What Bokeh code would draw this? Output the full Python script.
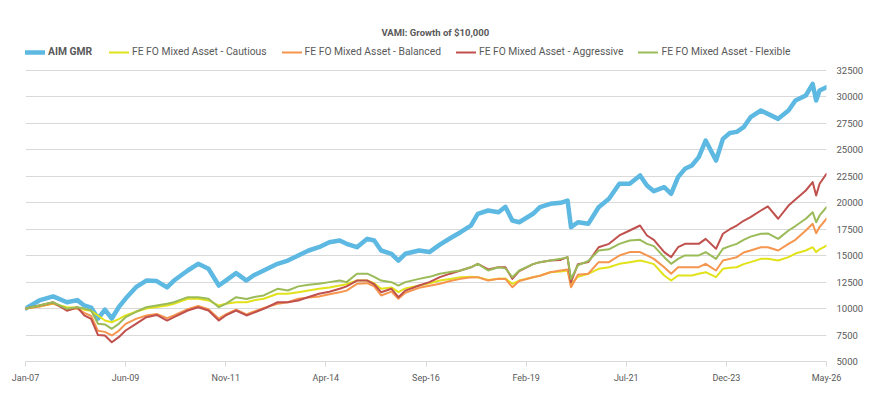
from datetime import datetime
from bokeh.plotting import figure
from bokeh.models import Range1d, FixedTicker, Legend, LegendItem, Title
from bokeh.embed import file_html
from bokeh.resources import INLINE

dates = ["Jan-07", "May-07", "Sep-07", "Jan-08", "Apr-08", "Jun-08", "Aug-08", "Oct-08", "Dec-08",
         "Feb-09", "Apr-09", "Jun-09", "Sep-09", "Dec-09", "Mar-10", "Jun-10", "Aug-10", "Dec-10",
         "Mar-11", "Jun-11", "Sep-11", "Nov-11", "Feb-12", "May-12", "Jul-12", "Oct-12", "Feb-13",
         "May-13", "Aug-13", "Nov-13", "Feb-14", "May-14", "Aug-14", "Oct-14", "Jan-15", "Apr-15",
         "Jun-15", "Aug-15", "Nov-15", "Jan-16", "Mar-16", "Jul-16", "Oct-16", "Jan-17", "Apr-17",
         "Jul-17", "Oct-17", "Dec-17", "Mar-18", "Jun-18", "Aug-18", "Oct-18", "Dec-18", "Apr-19",
         "Jun-19", "Sep-19", "Dec-19", "Feb-20", "Mar-20", "May-20", "Aug-20", "Nov-20", "Feb-21",
         "May-21", "Aug-21", "Nov-21", "Jan-22", "Mar-22", "Jun-22", "Aug-22", "Oct-22", "Dec-22",
         "Feb-23", "Apr-23", "Jun-23", "Sep-23", "Nov-23", "Jan-24", "Mar-24", "May-24", "Jul-24",
         "Oct-24", "Dec-24", "Mar-25", "Jun-25", "Aug-25", "Nov-25", "Jan-26", "Feb-26", "Mar-26",
         "May-26"]

aim_gmr = [10000, 10770, 11150, 10600, 10800, 10300, 10100, 9060, 9900,
           9060, 10130, 10950, 12020, 12650, 12600, 12000, 12650, 13600,
           14230, 13760, 12180, 12650, 13350, 12650, 13130, 13600, 14230,
           14540, 15020, 15490, 15800, 16270, 16430, 16120, 15800, 16590,
           16430, 15490, 15180, 14540, 15180, 15490, 15340, 16050, 16650,
           17220, 17850, 18950, 19270, 19110, 19620, 18320, 18160, 18960,
           19580, 19900, 20000, 20210, 17690, 18160, 18010, 19580, 20380,
           21790, 21800, 22580, 21630, 21100, 21470, 20850, 22420, 23210,
           23520, 24310, 25880, 23990, 26040, 26600, 26700, 27140, 28090,
           28720, 28400, 27930, 28720, 29660, 30140, 31240, 29660, 30610,
           30920]

cautious = [10000, 10200, 10450, 10130, 10100, 9900, 9800, 9350, 8870,
            8710, 9000, 9350, 9700, 10000, 10150, 10290, 10450, 10930,
            10930, 10770, 10290, 10450, 10600, 10600, 10770, 10930, 11400,
            11400, 11550, 11700, 11870, 12000, 12180, 12300, 12650, 12650,
            12400, 11870, 12000, 11550, 11900, 12180, 12400, 12650, 12800,
            12970, 13000, 12970, 12700, 12810, 12850, 12340, 12650, 12970,
            13100, 13440, 13500, 13600, 12340, 13000, 13290, 13760, 13910,
            14230, 14390, 14540, 14390, 14200, 13130, 12650, 13130, 13130,
            13130, 13290, 13440, 12970, 13760, 13850, 13910, 14200, 14390,
            14700, 14700, 14540, 14860, 15200, 15490, 15800, 15340, 15600,
            15960]

balanced = [10000, 10200, 10500, 9900, 10000, 9600, 9300, 7900, 7800,
            7460, 7900, 8560, 9030, 9350, 9500, 9100, 9350, 9950,
            10250, 9950, 9050, 9450, 9900, 9450, 9700, 10050, 10450,
            10600, 10930, 11050, 11140, 11350, 11550, 11700, 12340, 12400,
            12100, 11240, 11600, 10930, 11500, 11960, 12150, 12340, 12600,
            12810, 12950, 12970, 12650, 12810, 12800, 12020, 12600, 12970,
            13100, 13440, 13600, 13700, 12020, 13200, 13290, 14390, 14390,
            15020, 15340, 15340, 15020, 14700, 13910, 13290, 13910, 13910,
            13910, 13910, 14230, 13600, 14540, 14700, 14860, 15300, 15490,
            15800, 15800, 15490, 16120, 16500, 17380, 18010, 17120, 17700,
            18490]

aggressive = [10000, 10300, 10600, 9800, 10130, 9350, 9030, 7500, 7460,
              6820, 7300, 7930, 8560, 9190, 9400, 8870, 9190, 9820,
              10130, 9820, 8870, 9350, 9820, 9350, 9600, 9980, 10600,
              10600, 10770, 11100, 11400, 11600, 11870, 12100, 12650, 12650,
              12300, 11550, 11870, 11080, 11700, 12180, 12500, 12970, 13300,
              13600, 13900, 14230, 13700, 13910, 13900, 12810, 13550, 14200,
              14390, 14540, 14600, 14860, 12500, 14200, 14390, 15800, 16120,
              16910, 17380, 17850, 16910, 16500, 15340, 14860, 15800, 16120,
              16120, 16120, 16590, 15650, 17070, 17500, 17850, 18300, 18640,
              19270, 19650, 18490, 19740, 20300, 21160, 21950, 20690, 21800,
              22740]

flexible = [10000, 10290, 10600, 9980, 10130, 10000, 9820, 8560, 8500,
            8090, 8560, 9190, 9700, 10130, 10300, 10450, 10600, 11080,
            11080, 10930, 10130, 10450, 11080, 10900, 11080, 11240, 11870,
            11710, 12100, 12250, 12340, 12500, 12650, 12500, 13290, 13300,
            13000, 12650, 12500, 12180, 12500, 12810, 13000, 13290, 13450,
            13600, 13900, 14230, 13600, 13910, 13800, 12970, 13600, 14200,
            14390, 14540, 14700, 14860, 12800, 14100, 14500, 15490, 15600,
            16120, 16430, 16500, 16120, 15900, 14860, 14230, 14700, 15020,
            15020, 15020, 15340, 14700, 15650, 15900, 16120, 16500, 16800,
            17070, 17100, 16590, 17380, 17800, 18490, 19110, 18160, 18800,
            19580]

series_names = ["AIM GMR", "FE FO Mixed Asset - Cautious", "FE FO Mixed Asset - Balanced",
                "FE FO Mixed Asset - Aggressive", "FE FO Mixed Asset - Flexible"]
tick_labels = ["Jan-07", "Jun-09", "Nov-11", "Apr-14", "Sep-16", "Feb-19", "Jul-21", "Dec-23", "May-26"]
y_ticks = [5000, 7500, 10000, 12500, 15000, 17500, 20000, 22500, 25000, 27500, 30000, 32500]
title_text = "VAMI: Growth of $10,000"


def month_index(label):
    d = datetime.strptime(label, "%b-%y")
    return (d.year - 2007) * 12 + d.month - 1


x = [month_index(d) for d in dates]
tick_pos = [month_index(t) for t in tick_labels]

FONT = "Roboto"
GREY = "#595959"

# frame extends some pixels above the top gridline to hold the legend row
GRID_PX = 26.45          # pixel height of one 2500 step
EXTRA_PX = 28
y_top = y_ticks[-1] + (y_ticks[1] - y_ticks[0]) * EXTRA_PX / GRID_PX

p = figure(width=866, height=407, output_backend="svg", toolbar_location=None,
           x_range=Range1d(tick_pos[0], tick_pos[-1]),
           y_range=Range1d(y_ticks[0], y_top),
           y_axis_location="right",
           min_border_left=25, min_border_right=39, min_border_top=42, min_border_bottom=46)
p.background_fill_color = "white"
p.border_fill_color = "white"
p.outline_line_color = None

p.title = Title(text=title_text, align="left", text_font=FONT, text_font_size="9.5px",
                text_font_style="bold", text_color=GREY, standoff=10, offset=356)

colors = ["#5DB8E2", "#E2E21A", "#F5954E", "#C0504D", "#9BBB59"]
widths = [4.5, 2, 2, 2, 2]
all_series = [aim_gmr, cautious, balanced, aggressive, flexible]

items = []
for name, ys, c, w in zip(series_names, all_series, colors, widths):
    r = p.line(x, ys, line_color=c, line_width=w, line_join="round", line_cap="round")
    items.append(LegendItem(label=name, renderers=[r]))

# axes
p.xaxis.ticker = FixedTicker(ticks=tick_pos)
p.xaxis.major_label_overrides = {pos: lab for pos, lab in zip(tick_pos, tick_labels)}
p.xaxis.axis_line_color = "#D9D9D9"
p.xaxis.major_tick_line_color = "#D9D9D9"
p.xaxis.major_tick_out = 5
p.xaxis.major_tick_in = 0
p.xaxis.minor_tick_line_color = None
p.xaxis.major_label_text_font = FONT
p.xaxis.major_label_text_font_size = "9px"
p.xaxis.major_label_text_color = GREY
p.xaxis.major_label_standoff = 6

p.yaxis.ticker = FixedTicker(ticks=y_ticks)
p.yaxis.axis_line_color = None
p.yaxis.major_tick_line_color = None
p.yaxis.major_tick_out = 0
p.yaxis.major_tick_in = 0
p.yaxis.minor_tick_line_color = None
p.yaxis.major_label_text_font = FONT
p.yaxis.major_label_text_font_size = "9.5px"
p.yaxis.major_label_text_color = GREY
p.yaxis.major_label_standoff = 10
p.yaxis.formatter.use_scientific = False

p.xgrid.grid_line_color = None
p.ygrid.ticker = FixedTicker(ticks=y_ticks)
p.ygrid.grid_line_color = "#D9D9D9"
p.ygrid.grid_line_width = 1

legend_style = dict(orientation="horizontal", label_text_font=FONT, label_text_font_size="10.3px",
                    label_text_color=GREY, glyph_width=20, glyph_height=10, label_standoff=3,
                    spacing=15, padding=0, margin=0, border_line_color=None,
                    background_fill_alpha=0)
legend_main = Legend(items=items[:1], location=(0, 303), label_text_font_style="bold",
                     **legend_style)
legend_peers = Legend(items=items[1:], location=(84, 303), **legend_style)
p.add_layout(legend_main, "center")
p.add_layout(legend_peers, "center")

open("out.html", "w").write(file_html(p, INLINE))
